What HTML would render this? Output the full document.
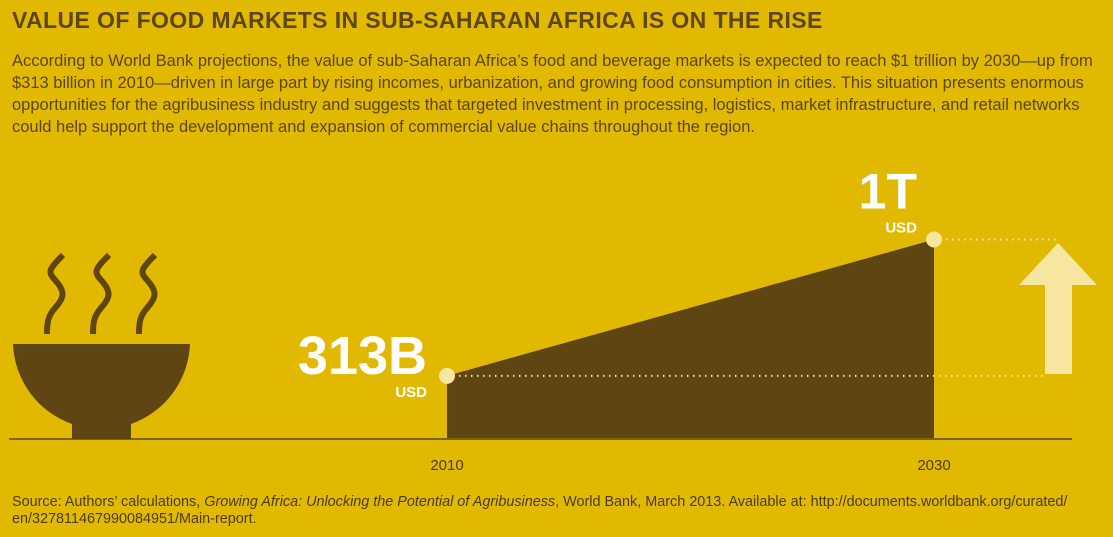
<!DOCTYPE html>
<html><head><meta charset="utf-8"><style>
body{margin:0;width:1113px;height:537px;background:#e2b901;overflow:hidden;font-family:"Liberation Sans",sans-serif;position:relative}
#t{position:absolute;left:12px;top:7px;font-size:23px;font-weight:bold;color:#5e4512;letter-spacing:0.4px}
#d{position:absolute;left:12px;top:50px;width:1105px;font-size:16.5px;line-height:22px;color:#5a4516;white-space:nowrap}
#s{position:absolute;left:12px;top:494px;width:1105px;font-size:14.4px;line-height:17px;color:#4d3c12;white-space:nowrap}
svg{position:absolute;left:0;top:0}
</style></head><body>
<div id="t">VALUE OF FOOD MARKETS IN SUB-SAHARAN AFRICA IS ON THE RISE</div>
<div id="d">According to World Bank projections, the value of sub-Saharan Africa’s food and beverage markets is expected to reach $1 trillion by 2030—up from<br>$313 billion in 2010—driven in large part by rising incomes, urbanization, and growing food consumption in cities. This situation presents enormous<br>opportunities for the agribusiness industry and suggests that targeted investment in processing, logistics, market infrastructure, and retail networks<br>could help support the development and expansion of commercial value chains throughout the region.</div>
<div id="s">Source: Authors’ calculations, <i>Growing Africa: Unlocking the Potential of Agribusiness</i>, World Bank, March 2013. Available at: http://documents.worldbank.org/curated/<br>en/327811467990084951/Main-report.</div>
<svg id="c" width="1113" height="537">
<g fill="#5e4512" stroke="none">
<path d="M13 344 H190 A88.5 88.5 0 0 1 131 424 V439 H72 V424 A88.5 88.5 0 0 1 13 344 Z"/>
<g fill="none" stroke="#5e4512" stroke-width="6">
<path d="M63 255 C48 270 48 272 55 280 C66 292 64 298 55 308 C48 316 47 322 47 334"/>
<path d="M109 255 C94 270 94 272 101 280 C112 292 110 298 101 308 C94 316 93 322 93 334"/>
<path d="M155 255 C140 270 140 272 147 280 C158 292 156 298 147 308 C140 316 139 322 139 334"/>
</g></g>
<line x1="9" y1="439" x2="1072" y2="439" stroke="#5e4512" stroke-width="1.5"/>
<polygon points="1019,285 1058,243 1097,285 1072,285 1072,374 1045,374 1045,285" fill="#f6e6a0"/>
<g id="marks"></g>
</svg>
<script>
const years=["2010","2030"];
const values=[313,1000];
const valueLabels=["313B","1T"];
const xPos=y=>y==="2010"?447:934;
const yScale=v=>438-v*0.1985;
const ns="http://www.w3.org/2000/svg",g=document.getElementById('marks');
function mk(t,a,txt){const e=document.createElementNS(ns,t);for(const k in a)e.setAttribute(k,a[k]);if(txt)e.textContent=txt;g.appendChild(e);return e;}
const x0=xPos(years[0]),x1=xPos(years[1]),y0=yScale(values[0]),y1=yScale(values[1]),b=yScale(0);
let a=mk('polygon',{points:`${x0},${b} ${x0},${y0} ${x1},${y1} ${x1},${b}`,fill:'#5e4512'});


let l1=mk('line',{x1:x0,y1:y0,x2:1045,y2:y0,stroke:'#f6e6a0','stroke-width':2,'stroke-dasharray':'1.5 4.5'});


let l2=mk('line',{x1:x1,y1:y1,x2:1057,y2:y1,stroke:'#f6e6a0','stroke-width':2,'stroke-dasharray':'1.5 4.5'});


years.forEach((yr,i)=>{
 const x=xPos(yr),y=yScale(values[i]);
 let c=mk('circle',{cx:x,cy:y,r:8,fill:'#f6e6a0'});
 
 
 let t=mk('text',{x:x,y:470,'text-anchor':'middle','font-size':15,fill:'#4d3c12','font-family':'Liberation Sans'},yr);
 
 
 const lx=i==0?x-20:x-17, ly=i==0?y-2:y-31;
 let v=mk('text',{x:lx,y:ly,'text-anchor':'end','font-size':i==0?54:50,'font-weight':'bold',fill:'#fff','font-family':'Liberation Sans'},valueLabels[i]);
 
 
 let u=mk('text',{x:lx,y:i==0?y+21:y-7,'text-anchor':'end','font-size':15,'font-weight':'bold',fill:'#fff','font-family':'Liberation Sans'},'USD');
 
 
});
</script>
</body></html>
